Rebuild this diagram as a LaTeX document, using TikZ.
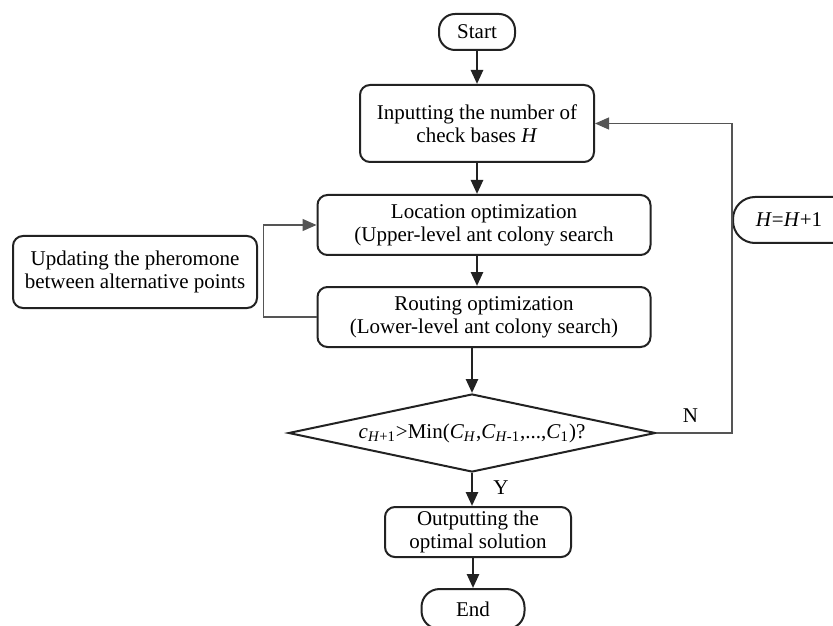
\documentclass[tikz,border=0pt]{standalone}
\usepackage{fontspec}
\setmainfont{Liberation Serif}
\usepackage{tikz}
\usetikzlibrary{arrows.meta,positioning,shapes.geometric}
\definecolor{flowline}{HTML}{222222}
\definecolor{loopline}{HTML}{555555}

\begin{document}
\begin{tikzpicture}[
  b/.style={draw=flowline,line width=1pt,rounded corners=5pt,align=center,
    font=\fontsize{10.5}{11.5}\selectfont,inner sep=2pt},
  term/.style={b,rounded corners=8pt,minimum width=38pt,minimum height=18pt},
  proc/.style={b,minimum width=117pt,minimum height=38.5pt},
  opt/.style={b,minimum width=166.5pt,minimum height=30pt},
  dec/.style={diamond,draw=flowline,line width=1pt,aspect=4.7,inner sep=0pt,
    minimum width=183.5pt,minimum height=39pt,font=\fontsize{10.5}{11.5}\selectfont},
  arr/.style={-{Triangle[length=7pt,width=6pt]},line width=1.3pt,draw=flowline},
  fb/.style={-{Triangle[length=7pt,width=6pt]},line width=0.6pt,draw=loopline},
  lbl/.style={font=\fontsize{10.5}{11.5}\selectfont,inner sep=2pt}
]
\useasboundingbox (0,0) rectangle (416.5pt,-312.5pt);
\node[term] (start) at (238.5pt,-16pt) {Start};
\node[proc,below=16.5pt of start] (inp) {Inputting the number of\\check bases \textit{H}};
\node[opt,below=15.5pt of inp,xshift=3.5pt] (loc) {Location optimization\\(Upper-level ant colony search};
\node[opt,below=15pt of loc] (rout) {Routing optimization\\(Lower-level ant colony search)};
\node[dec,below=22.5pt of rout,xshift=-6pt] (dec) {\textit{c}\textsubscript{\textit{H}+1}>Min(\textit{C}\textsubscript{\textit{H}},\textit{C}\textsubscript{\textit{H}-1},...,\textit{C}\textsubscript{1})?};
\node[b,minimum width=93pt,minimum height=25pt,below=16.5pt of dec,xshift=3pt] (out) {Outputting the\\optimal solution};
\node[term,rounded corners=9pt,minimum width=51.5pt,minimum height=20pt,below=15pt of out,xshift=-2.5pt] (end) {End};
\node[b,minimum width=122pt,minimum height=36pt] (upd) at (67.5pt,-136pt) {Updating the pheromone\\between alternative points};
\node[b,rounded corners=11pt,minimum width=68pt,minimum height=23pt] (hinc) at (400.5pt,-110pt) {\hspace*{-12pt}\textit{H}=\textit{H}+1};
\coordinate (nturn) at (366pt,0);
\draw[arr] (start) -- (inp);
\draw[arr] (inp.south) -- (inp.south |- loc.north);
\draw[arr] (inp.south |- loc.south) -- (inp.south |- rout.north);
\draw[arr] (dec.north |- rout.south) -- (dec.north);
\draw[arr] (dec.south) -- node[lbl,right,pos=0.45,xshift=8pt]{Y} (dec.south |- out.north);
\draw[arr] (end.north |- out.south) -- (end.north);
\draw[fb] (rout.west) -- ++(-26.5pt,0) |- (loc.west);
\draw[fb] (dec.east) -- node[lbl,above,pos=0.45,yshift=3pt]{N} (dec.east -| nturn) |- (inp.east);
\end{tikzpicture}
\end{document}
